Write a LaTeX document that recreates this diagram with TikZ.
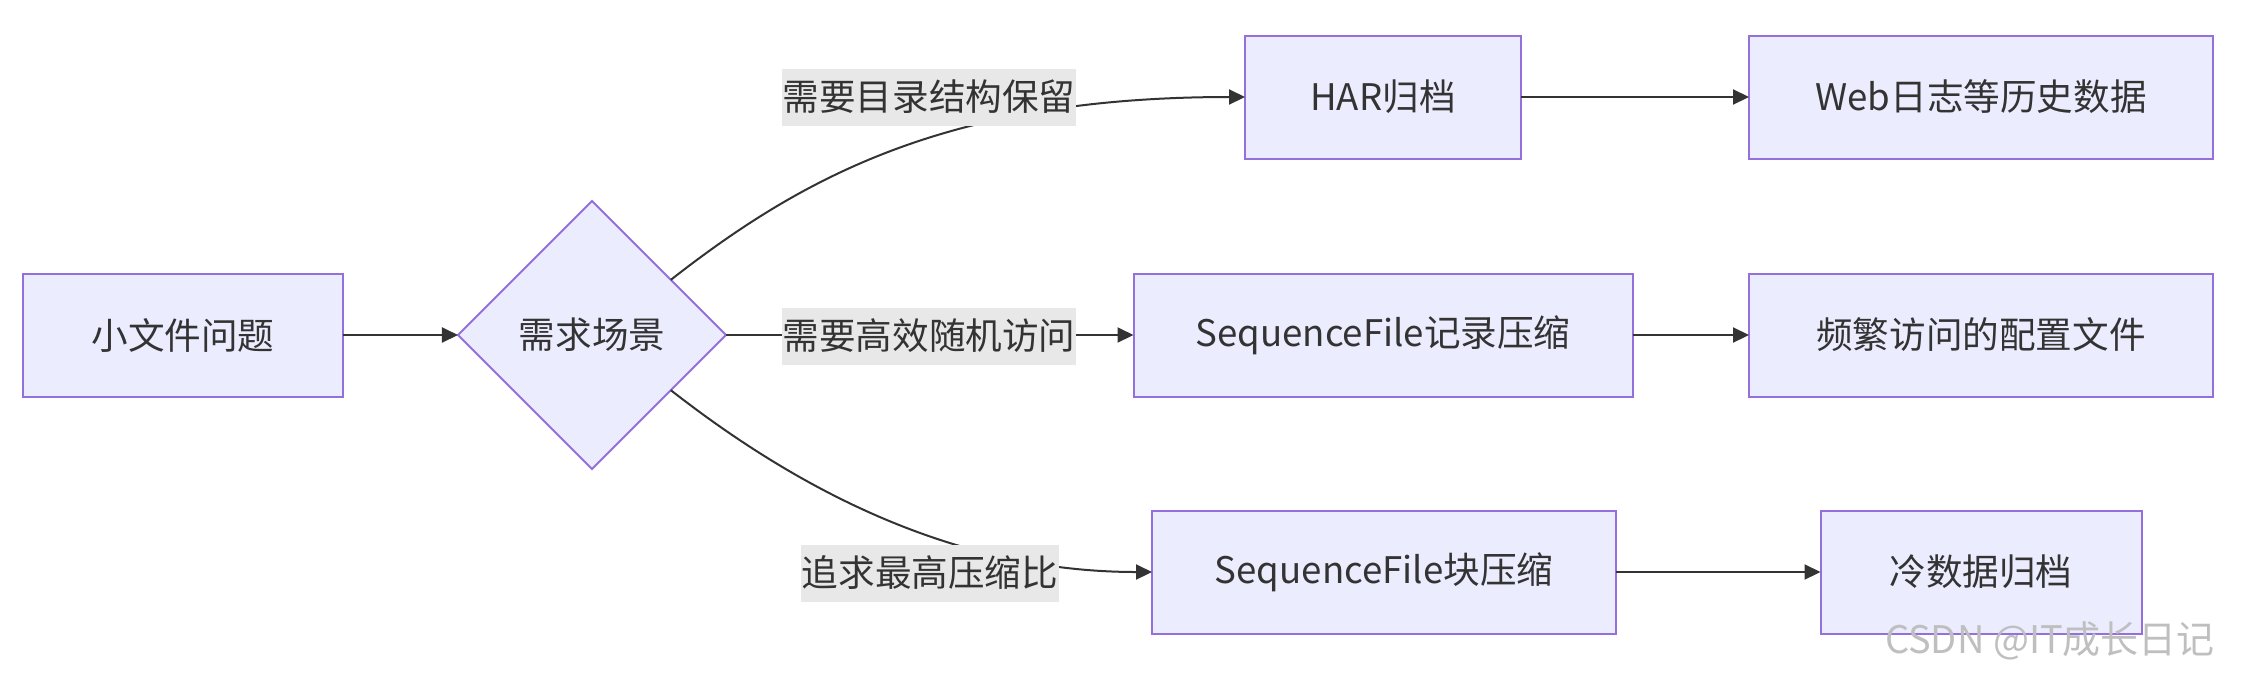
\documentclass[tikz,border=0pt]{standalone}
\usepackage{fontspec}
\setmainfont{Noto Sans CJK SC}
\usetikzlibrary{arrows.meta,shapes.geometric}
\definecolor{boxfill}{HTML}{ECECFF}
\definecolor{boxline}{HTML}{9370DB}
\definecolor{ink}{HTML}{333333}
\definecolor{lblfill}{HTML}{E8E8E8}

\begin{document}
\begin{tikzpicture}[x=0.5pt,y=-0.5pt,
 font=\fontsize{18.3}{22}\selectfont,text=ink,
 box/.style={draw=boxline,fill=boxfill,line width=1pt,minimum height=61.5pt,inner sep=0pt,outer sep=0pt},
 choice/.style={diamond,draw=boxline,fill=boxfill,line width=1pt,minimum width=134pt,minimum height=134pt,inner sep=0pt,outer sep=0pt},
 lbl/.style={fill=lblfill,inner xsep=0.5pt,inner ysep=0pt,minimum height=28.5pt},
 arr/.style={-{Triangle[length=8pt,width=7.5pt]},draw=ink,line width=1pt}]
\useasboundingbox (0,0) rectangle (2242,676);
\node[box,minimum width=160pt] (small) at (183,335) {小文件问题};
\node[choice] (need) at (592,335) {需求场景};
\node[box,minimum width=138pt] (har) at (1383,97) {HAR归档};
\node[box,minimum width=232pt] (web) at (1981,97) {Web日志等历史数据};
\node[box,minimum width=249.5pt] (rec) at (1383,335) {SequenceFile记录压缩};
\node[box,minimum width=232pt] (conf) at (1981,335) {频繁访问的配置文件};
\node[box,minimum width=232pt] (blk) at (1384,572) {SequenceFile块压缩};
\node[box,minimum width=160.5pt] (cold) at (1981,572) {冷数据归档};
\draw[arr] (small)--(need);
\draw[arr] (need.35) .. controls (805,175) and (950,97) .. (har.west);
\draw[arr] (need.east)--(rec.west);
\draw[arr] (need.-35) .. controls (805,495) and (960,572) .. (blk.west);
\draw[arr] (har)--(web); \draw[arr] (rec)--(conf); \draw[arr] (blk)--(cold);
% edge labels on top of the curves
\node[lbl] (why1) at (929,97) {需要目录结构保留};
\node[lbl] (why2) at (929,336) {需要高效随机访问};
\node[lbl] (why3) at (930,573) {追求最高压缩比};
\node[text=black!25,font=\fontsize{19}{21}\selectfont] (mark) at (2050,641) {CSDN @IT成长日记};
\end{tikzpicture}
\end{document}
